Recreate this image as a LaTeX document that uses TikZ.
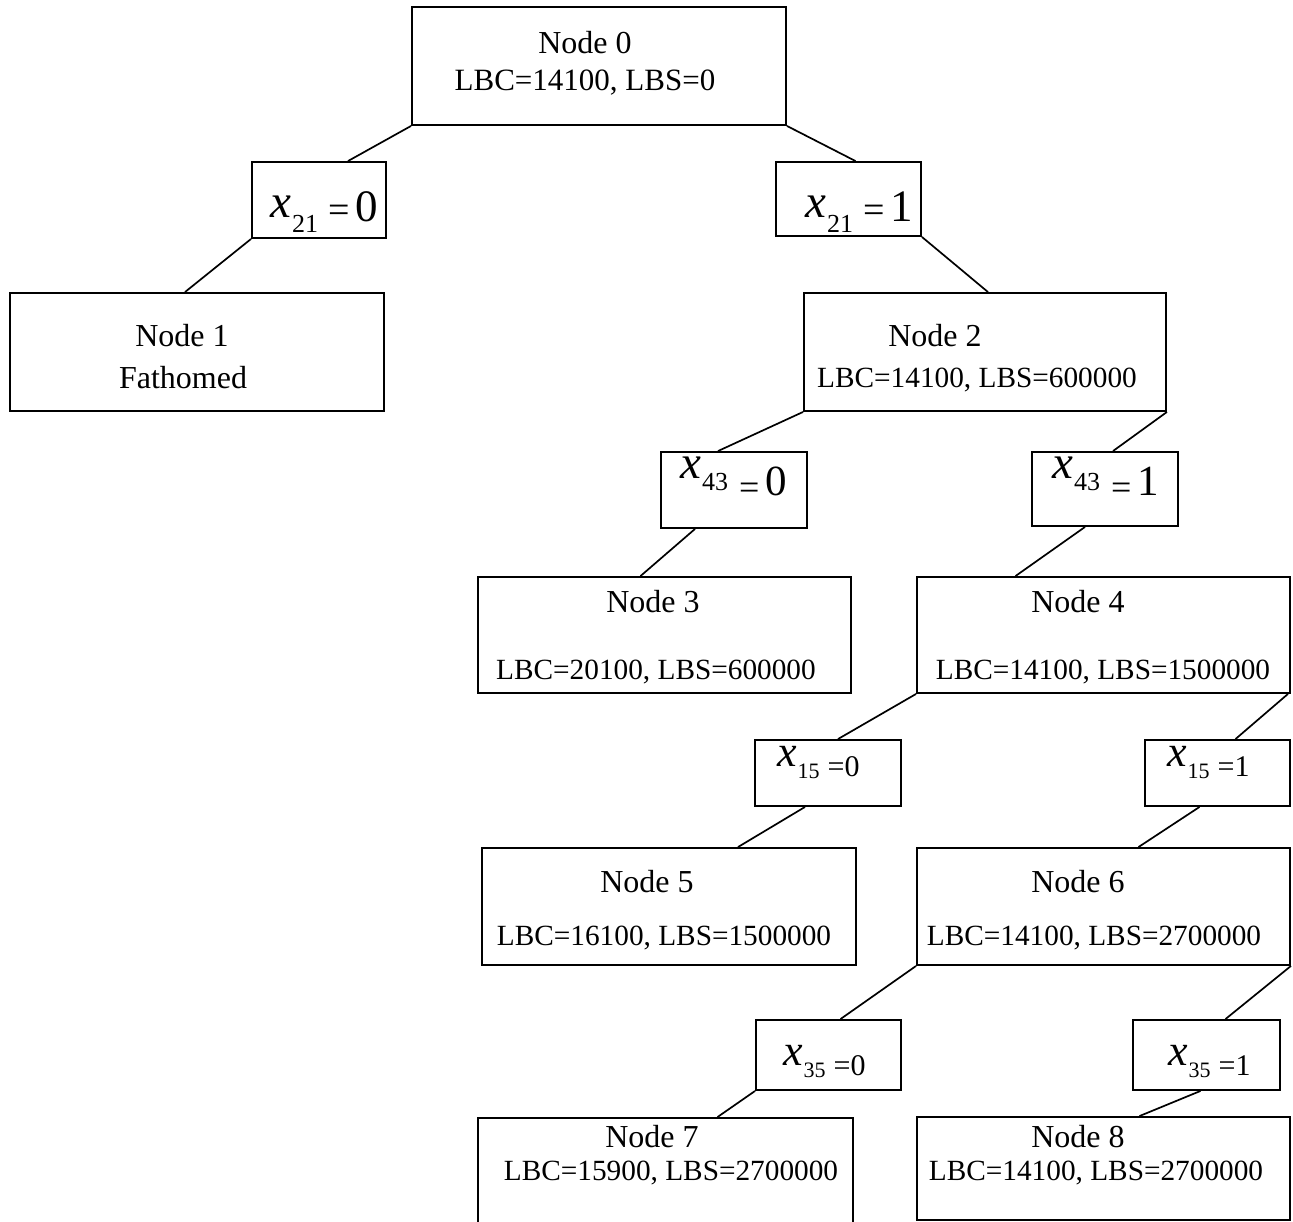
\documentclass[tikz,border=0pt]{standalone}
\usepackage{fontspec}
\setmainfont{Liberation Serif}
\usetikzlibrary{calc}

% font size helper: \fs{size}{text}
\newcommand\fs[2]{{\fontsize{#1}{#1}\selectfont #2}}
\newcommand\vx[1]{\fs{#1}{\itshape x}}

\begin{document}
\begin{tikzpicture}[x=1pt,y=-1pt,
  box/.style={draw,line width=1.9pt,rectangle,inner sep=0pt},
  edge/.style={line width=1.7pt},
  title/.style={inner sep=0pt,font=\fontsize{32}{32}\selectfont},
  bound/.style={inner sep=0pt,font=\fontsize{29.3}{30}\selectfont},
  lbl/.style={inner sep=0pt,anchor=base west}]
\useasboundingbox (0,0) rectangle (1293,1222);
\fill[white] (0,0) rectangle (1293,1222);

% box (name) from (x1,y1) to (x2,y2)
\newcommand\bx[5]{\node[box,minimum width={#4-#2},minimum height={#5-#3}] (#1) at ({(#2+#4)/2},{(#3+#5)/2}) {};}

\bx{n0}{412}{7}{786}{125}
\bx{b21a}{252}{162}{386}{238}
\bx{b21b}{776}{162}{921}{236}
\bx{n1}{10}{293}{384}{411}
\bx{n2}{804}{293}{1166}{411}
\bx{b43a}{661}{452}{807}{528}
\bx{b43b}{1032}{452}{1178}{526}
\bx{n3}{478}{577}{851}{693}
\bx{n4}{917}{577}{1290}{693}
\bx{b15a}{755}{740}{901}{806}
\bx{b15b}{1145}{740}{1290}{806}
\bx{n5}{482}{848}{856}{965}
\bx{n6}{917}{848}{1290}{965}
\bx{b35a}{756}{1020}{901}{1090}
\bx{b35b}{1133}{1020}{1280}{1090}
\bx{n7}{478}{1118}{853}{1250}
\bx{n8}{917}{1117}{1290}{1220}

% tree node texts
\node[title] (t0) at (585,43) {Node 0};
\node[bound,font=\fontsize{31}{31}\selectfont] (s0) at (585,83) {LBC=14100, LBS=0};
\node[title] (t1) at (182,336) {Node 1};
\node[title] (s1) at (183,378) {Fathomed};
\node[title] (t2) at (935,336) {Node 2};
\node[bound] (s2) at (977,380) {LBC=14100, LBS=600000};
\node[title] (t3) at (653,602) {Node 3};
\node[bound] (s3) at (656,672) {LBC=20100, LBS=600000};
\node[title] (t4) at (1078,602) {Node 4};
\node[bound] (s4) at (1103,672) {LBC=14100, LBS=1500000};
\node[title] (t5) at (647,882) {Node 5};
\node[bound] (s5) at (664,938) {LBC=16100, LBS=1500000};
\node[title] (t6) at (1078,882) {Node 6};
\node[bound] (s6) at (1094,938) {LBC=14100, LBS=2700000};
\node[title] (t7) at (652,1137) {Node 7};
\node[bound] (s7) at (671,1173) {LBC=15900, LBS=2700000};
\node[title] (t8) at (1078,1137) {Node 8};
\node[bound] (s8) at (1096,1173) {LBC=14100, LBS=2700000};

% branching labels
\node[lbl] (l21a) at (270,218) {\vx{47}\hspace{1pt}\raisebox{-15pt}{\fs{26}{21}}\hspace{10pt}\raisebox{-5pt}{\fs{38}{=}}\hspace{6pt}\raisebox{-4pt}{\fs{45}{0}}};
\node[lbl] (l21b) at (805,218) {\vx{47}\hspace{1pt}\raisebox{-15pt}{\fs{26}{21}}\hspace{10pt}\raisebox{-5pt}{\fs{38}{=}}\hspace{6pt}\raisebox{-4pt}{\fs{45}{1}}};
\node[lbl] (l43a) at (680,478) {\vx{47}\hspace{1pt}\raisebox{-12pt}{\fs{26}{43}}\hspace{11pt}\raisebox{-21pt}{\fs{36}{=}}\hspace{6pt}\raisebox{-17pt}{\fs{43}{0}}};
\node[lbl] (l43b) at (1052,478) {\vx{47}\hspace{1pt}\raisebox{-12pt}{\fs{26}{43}}\hspace{11pt}\raisebox{-21pt}{\fs{36}{=}}\hspace{6pt}\raisebox{-17pt}{\fs{43}{1}}};
\node[lbl] (l15a) at (777,766) {\vx{44}\hspace{1pt}\raisebox{-12pt}{\fs{22}{15}}\hspace{8pt}\raisebox{-10pt}{\fs{30}{=0}}};
\node[lbl] (l15b) at (1167,766) {\vx{44}\hspace{1pt}\raisebox{-12pt}{\fs{22}{15}}\hspace{8pt}\raisebox{-10pt}{\fs{30}{=1}}};
\node[lbl] (l35a) at (783,1065) {\vx{44}\hspace{1pt}\raisebox{-12pt}{\fs{22}{35}}\hspace{8pt}\raisebox{-10pt}{\fs{30}{=0}}};
\node[lbl] (l35b) at (1168,1065) {\vx{44}\hspace{1pt}\raisebox{-12pt}{\fs{22}{35}}\hspace{8pt}\raisebox{-10pt}{\fs{30}{=1}}};

% connectors
\draw[edge] (n0.south west) -- ([xshift=29pt]b21a.north);
\draw[edge] (n0.south east) -- ([xshift=7pt]b21b.north);
\draw[edge] (b21a.south west) -- ([xshift=-12pt]n1.north);
\draw[edge] (b21b.south east) -- ([xshift=3pt]n2.north);
\draw[edge] (n2.south west) -- ([xshift=-16pt]b43a.north);
\draw[edge] (n2.south east) -- ([xshift=8pt]b43b.north);
\draw[edge] ([xshift=-39pt]b43a.south) -- ([xshift=-24pt]n3.north);
\draw[edge] ([xshift=-20pt]b43b.south) -- ([xshift=-88pt]n4.north);
\draw[edge] (n4.south west) -- ([xshift=10pt]b15a.north);
\draw[edge] ([xshift=-3pt]n4.south east) -- ([xshift=18pt]b15b.north);
\draw[edge] ([xshift=-23pt]b15a.south) -- ([xshift=69pt]n5.north);
\draw[edge] ([xshift=-18pt]b15b.south) -- ([xshift=35pt]n6.north);
\draw[edge] (n6.south west) -- ([xshift=12pt]b35a.north);
\draw[edge] (n6.south east) -- ([xshift=19pt]b35b.north);
\draw[edge] (b35a.south west) -- ([xshift=52pt]n7.north);
\draw[edge] ([xshift=-6pt]b35b.south) -- ([xshift=36pt]n8.north);
\end{tikzpicture}
\end{document}
